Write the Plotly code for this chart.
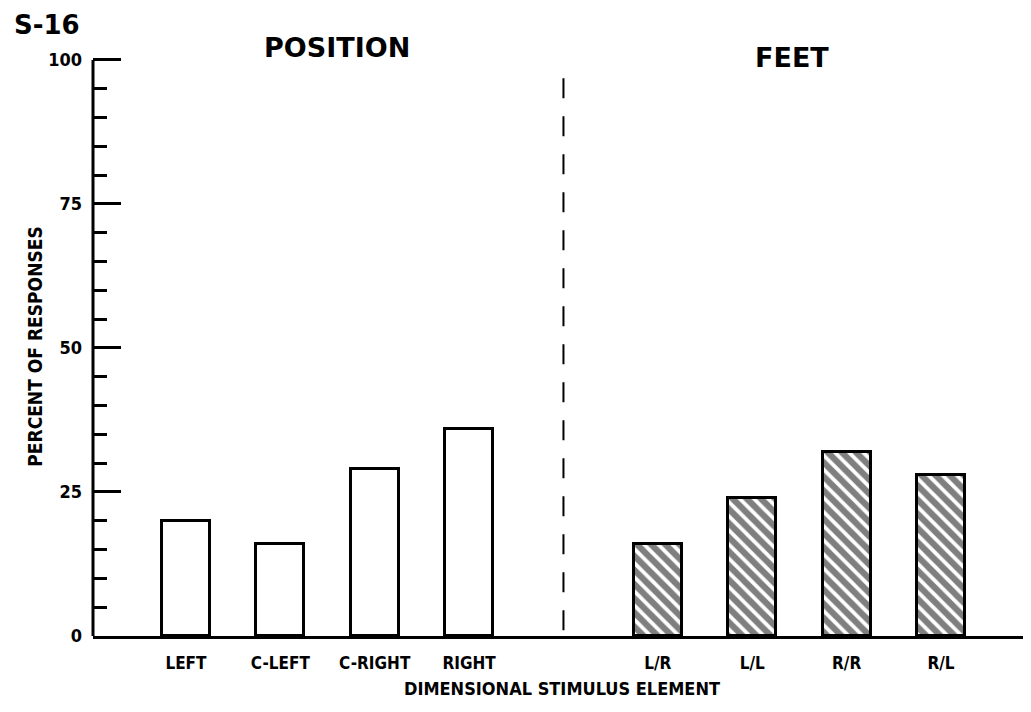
import plotly.graph_objects as go

position_labels = ["LEFT", "C-LEFT", "C-RIGHT", "RIGHT"]
position_values = [20, 16, 29, 36]
feet_labels = ["L/R", "L/L", "R/R", "R/L"]
feet_values = [16, 24, 32, 28]
y_tick_values = [0, 25, 50, 75, 100]

pos_x = list(range(len(position_labels)))
gap = len(position_labels) + 1
feet_x = [gap + i for i in range(len(feet_labels))]
divider_x = len(position_labels)

NARROW = "Liberation Sans Narrow, Arial Narrow, DejaVu Sans Condensed, sans-serif"

# page offset (body margin) and plot-area placement in page pixels
OFF = 8
W, H = 1031 - OFF, 712 - OFF
Y_TOP = 100.5
L, T, B, R = 93 - OFF, 60 - OFF - 3, 76, 0

fig = go.Figure()
fig.add_trace(go.Bar(
    x=pos_x, y=position_values, width=0.51,
    marker=dict(color="white", line=dict(color="black", width=3)),
    showlegend=False,
))
fig.add_trace(go.Bar(
    x=feet_x, y=feet_values, width=0.51,
    marker=dict(color="white", line=dict(color="black", width=3),
                pattern=dict(shape="\\", fgcolor="black", bgcolor="white",
                             size=10, solidity=0.62, fillmode="overlay")),
    showlegend=False,
))

fig.add_shape(type="line", x0=divider_x, x1=divider_x, y0=1, y1=99,
              xref="x", yref="y",
              line=dict(color="black", width=2, dash="20px,18px"))

fig.update_layout(
    width=W, height=H,
    margin=dict(l=L, r=R, t=T, b=B),
    plot_bgcolor="white", paper_bgcolor="white",
    bargap=0,
    font=dict(family=NARROW, color="black"),
    xaxis=dict(
        range=[-0.985, 8.954],
        tickvals=pos_x + feet_x,
        ticktext=position_labels + feet_labels,
        tickfont=dict(family=NARROW, size=17, color="black", weight="bold"),
        showgrid=False, zeroline=False,
        showline=True, linecolor="black", linewidth=3,
        ticks="", ticklabelstandoff=10,
        title=dict(text="DIMENSIONAL STIMULUS ELEMENT",
                   font=dict(family=NARROW, size=18, color="black", weight="bold"),
                   standoff=10),
    ),
    yaxis=dict(
        range=[0, Y_TOP],
        tickvals=y_tick_values,
        ticks="inside", ticklen=28, tickwidth=3, tickcolor="black",
        minor=dict(dtick=5, ticks="inside", ticklen=14, tickwidth=3, tickcolor="black"),
        tickfont=dict(family=NARROW, size=18, color="black", weight="bold"),
        showgrid=False, zeroline=False,
        showline=False,
        ticklabelstandoff=10,
        title=dict(text="PERCENT OF RESPONSES",
                   font=dict(family=NARROW, size=19, color="black", weight="bold"),
                   standoff=0),
    ),
    annotations=[
        dict(text="<b>S-16</b>", x=12, y=25, showarrow=False,
             font=dict(family="DejaVu Sans", size=26, color="black"),
             xanchor="left", yanchor="middle"),
        dict(text="<b>POSITION</b>", x=337, y=47, showarrow=False,
             font=dict(family="DejaVu Sans", size=27, color="black"),
             xanchor="center", yanchor="middle"),
        dict(text="<b>FEET</b>", x=792, y=57, showarrow=False,
             font=dict(family="DejaVu Sans", size=27, color="black"),
             xanchor="center", yanchor="middle"),
    ],
)

# y-axis line from 0 to 100 only
fig.add_shape(type="line", xref="paper", yref="y", x0=0, x1=0, y0=0, y1=100,
              line=dict(color="black", width=3))

# convert page-pixel annotation positions to paper coords
pw, ph = W - L - R, H - T - B
for a in fig.layout.annotations:
    a.x = (a.x - OFF - L) / pw
    a.y = (H - B - (a.y - OFF)) / ph
    a.xref = "paper"
    a.yref = "paper"

fig.write_html("out.html")
